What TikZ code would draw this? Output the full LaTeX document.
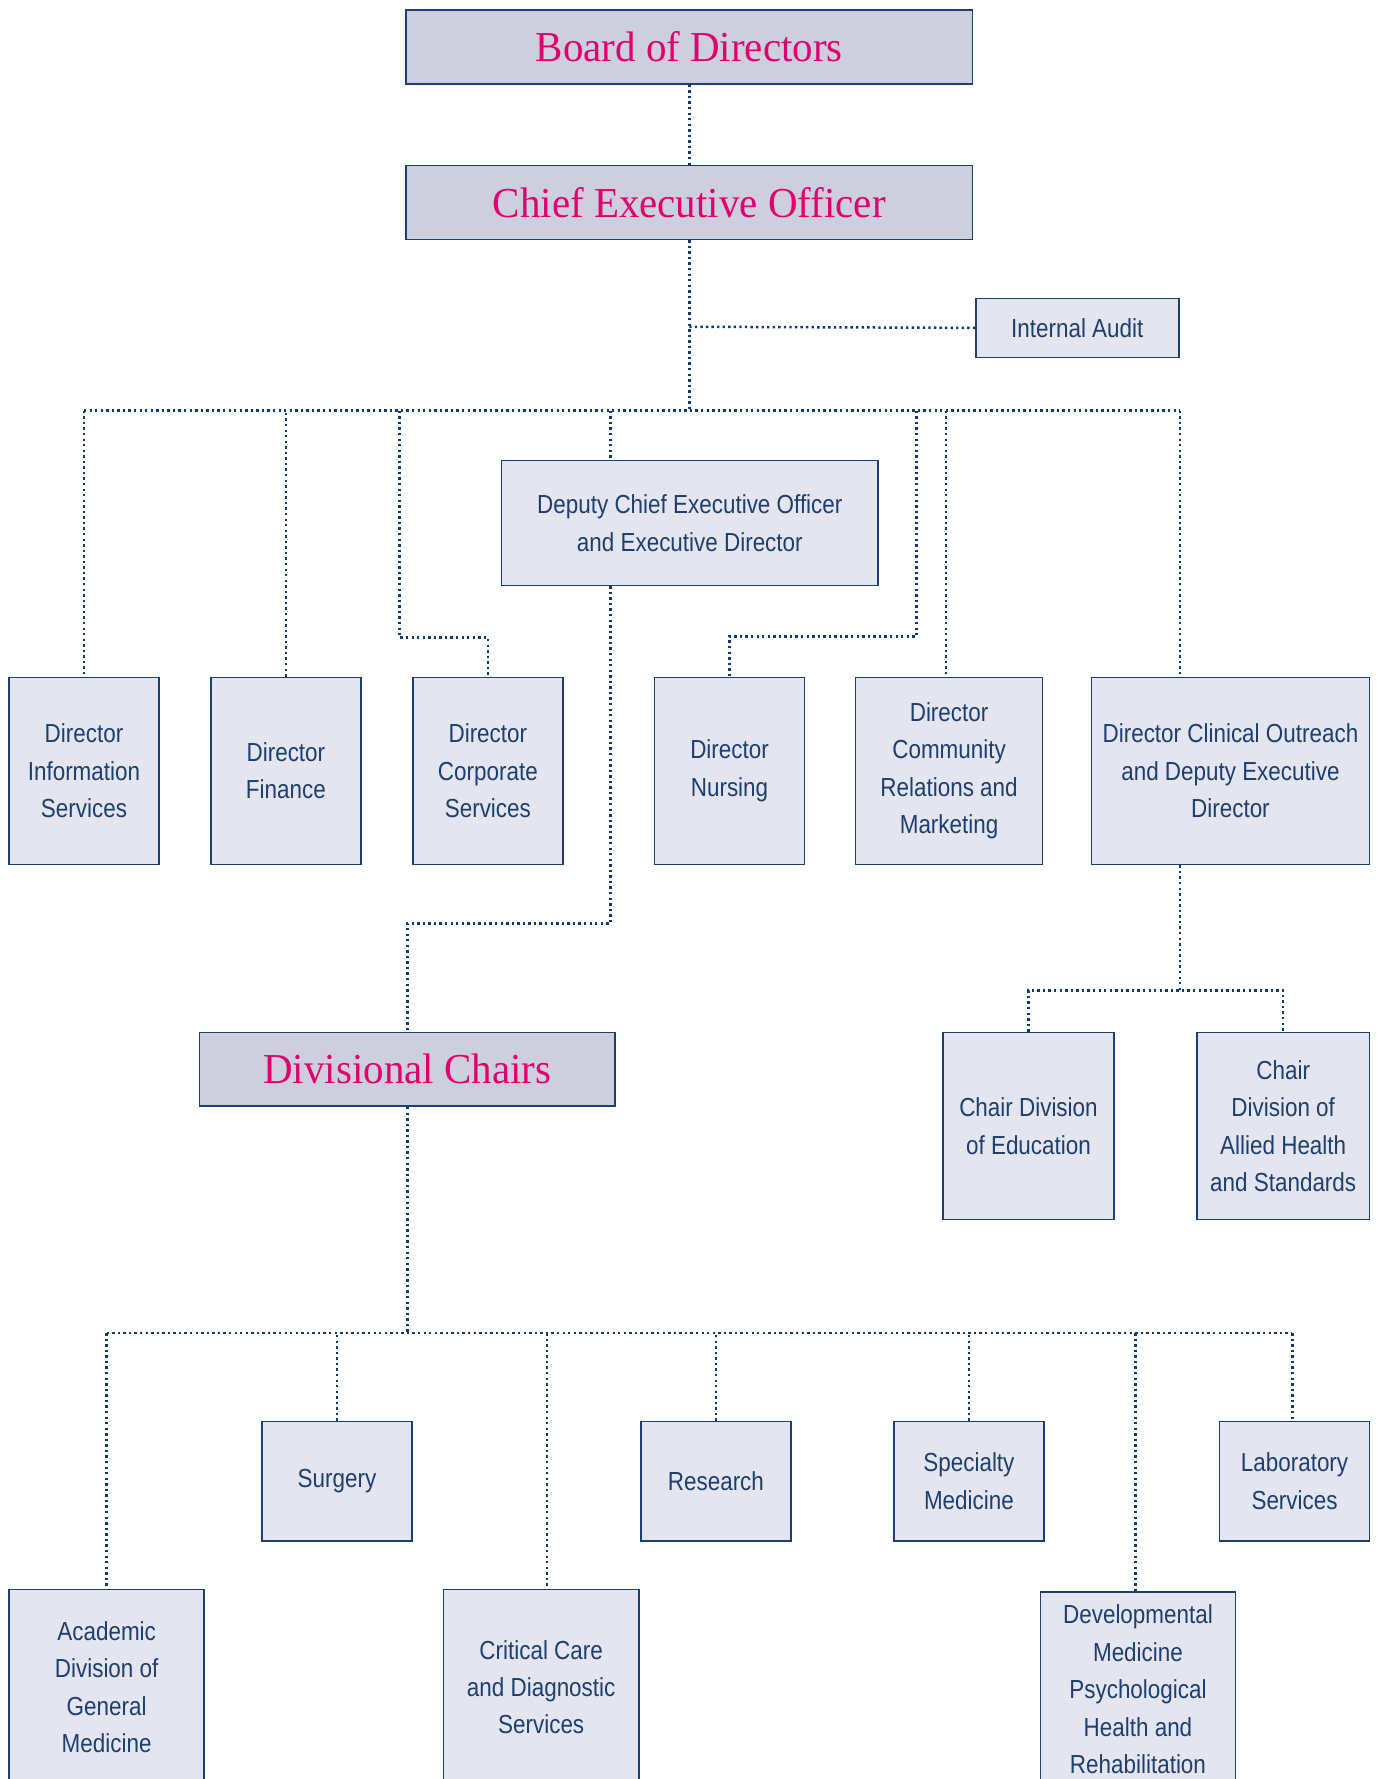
\documentclass[tikz,border=0pt]{standalone}
\usepackage{fontspec}
\setmainfont[FakeStretch=0.86]{Liberation Sans}
\newfontfamily\titlefont[FakeStretch=0.96]{Liberation Serif}
\definecolor{navy}{HTML}{1C3F6E}
\definecolor{dotc}{HTML}{0E3A68}
\definecolor{pinkt}{HTML}{E2006F}
\definecolor{topfill}{HTML}{CDCFDF}
\definecolor{boxfill}{HTML}{E4E5EE}
\tikzset{
  bx/.style 2 args={draw=navy, line width=0.7pt, fill=boxfill, text=navy, align=center,
    minimum width=#1*0.5pt, minimum height=#2*0.5pt, inner sep=0pt,
    font=\fontsize{11.5pt}{16.5pt}\selectfont},
  topbx/.style 2 args={bx={#1}{#2}, fill=topfill, text=pinkt,
    font=\titlefont\fontsize{18.8pt}{20pt}\selectfont},
  conn/.style={draw=dotc, line width=1.1pt, line cap=butt, dash pattern=on 1.05pt off 1.4pt}
}
\begin{document}
\begin{tikzpicture}[x=0.5pt, y=-0.5pt]
\useasboundingbox (0,0) rectangle (1215,1568);
\clip (0,0) rectangle (1215,1568);
\fill[white] (0,0) rectangle (1215,1568);
% top
\node[topbx={499}{65}] (board) at (607.5,41.5) {Board of Directors};
\node[topbx={499}{65}] (ceo) at (607.5,178.5) {Chief Executive Officer};
\node[bx={179}{52}] (audit) at (949.5,289) {Internal Audit};
\node[bx={332}{110}] (deputy) at (608,461) {Deputy Chief Executive Officer\\and Executive Director};
% directors row
\node[bx={132}{165}] (info) at (74,679.5) {Director\\Information\\Services};
\node[bx={132}{165}] (finance) at (252,679.5) {Director\\Finance};
\node[bx={132}{165}] (corporate) at (430,679.5) {Director\\Corporate\\Services};
\node[bx={132}{165}] (nursing) at (643,679.5) {Director\\Nursing};
\node[bx={165}{165}] (community) at (836.5,679.5) {Director\\Community\\Relations and\\Marketing};
\node[bx={245}{165}] (clinical) at (1084.5,679.5) {Director Clinical Outreach\\and Deputy Executive\\Director};
% divisional chairs
\node[topbx={366}{65}] (divchairs) at (359,942.5) {Divisional Chairs};
\node[bx={151}{165}] (education) at (906.5,992.5) {Chair Division\\of Education};
\node[bx={152}{165}] (allied) at (1131,992.5) {Chair\\Division of\\Allied Health\\and Standards};
% divisions
\node[bx={132}{105}] (surgery) at (297,1305.5) {Surgery};
\node[bx={132}{105}] (research) at (631,1305.5) {Research};
\node[bx={132}{105}] (specialty) at (854,1305.5) {Specialty\\Medicine};
\node[bx={132}{105}] (laboratory) at (1141,1305.5) {Laboratory\\Services};
\node[bx={172}{172}] (academic) at (94,1487) {Academic\\Division of\\General\\Medicine};
\node[bx={172}{172}] (critical) at (477,1487) {Critical Care\\and Diagnostic\\Services};
\node[bx={172}{172}] (developmental) at (1003,1489) {Developmental\\Medicine\\Psychological\\Health and\\Rehabilitation};
% coordinates
\coordinate (busL) at (74,362);
\coordinate (busR) at (1040,362);
\coordinate (ceoBus) at (607.5,362);
\coordinate (auditJ) at (607.5,288);
% connectors
\draw[conn] (board.south) -- (ceo.north);
\draw[conn] (ceo.south) -- (ceoBus);
\draw[conn] (auditJ) -- (audit.west);
\draw[conn] (busL) -- (busR);
\draw[conn] (busL) -- (info.north);
\draw[conn] (finance.north) -- (finance.north |- busL);
\draw[conn] (352,362) -- (352,562) -| (corporate.north);
\draw[conn] (538,362) -- (538,362 |- deputy.north);
\draw[conn] (808,362) -- (808,561) -| (nursing.north);
\draw[conn] (834,362) -- (834,362 |- community.north);
\draw[conn] (busR) -- (busR |- clinical.north);
\draw[conn] (538,362 |- deputy.south) -- (538,814) -| (divchairs.north);
\draw[conn] (1040,362 |- clinical.south) -- (1040,873);
\draw[conn] (education.north) |- (1040,873) -| (allied.north);
% divisions bus
\coordinate (dbusL) at (94,1175);
\coordinate (dbusR) at (1139,1175);
\draw[conn] (divchairs.south) -- (359,1175);
\draw[conn] (dbusL) -- (dbusR);
\draw[conn] (dbusL) -- (academic.north);
\draw[conn] (surgery.north) -- (surgery.north |- dbusL);
\draw[conn] (482,1175) -- (482,1175 |- critical.north);
\draw[conn] (research.north) -- (research.north |- dbusL);
\draw[conn] (specialty.north) -- (specialty.north |- dbusL);
\draw[conn] (1001,1175) -- (1001,1175 |- developmental.north);
\draw[conn] (dbusR) -- (dbusR |- laboratory.north);
\end{tikzpicture}
\end{document}
